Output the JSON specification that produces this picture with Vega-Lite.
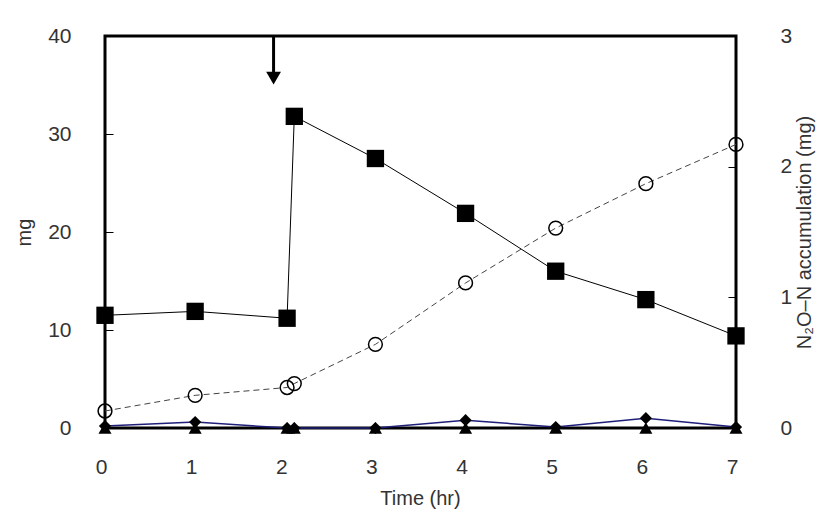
{
  "$schema": "https://vega.github.io/schema/vega-lite/v6.json",
  "autosize": "none",
  "width": 631,
  "height": 392,
  "padding": {"left": 105, "top": 36, "right": 90, "bottom": 86},
  "background": "white",
  "config": {
    "view": {"stroke": "black", "strokeWidth": 3},
    "font": "Liberation Sans",
    "axis": {"labelFont": "Liberation Sans", "titleFont": "Liberation Sans", "labelFontSize": 21, "titleFontSize": 20, "labelColor": "#333", "titleColor": "#333", "titleFontWeight": "normal", "grid": false, "domain": false, "format": "d", "zindex": 1, "labelFlush": false}
  },
  "datasets": {
    "mg": [
      {"t": 0, "v": 11.5, "s": "square"},
      {"t": 1, "v": 11.9, "s": "square"},
      {"t": 2.02, "v": 11.2, "s": "square"},
      {"t": 2.1, "v": 31.8, "s": "square"},
      {"t": 3, "v": 27.5, "s": "square"},
      {"t": 4, "v": 21.9, "s": "square"},
      {"t": 5, "v": 16.0, "s": "square"},
      {"t": 6, "v": 13.1, "s": "square"},
      {"t": 7, "v": 9.4, "s": "square"},
      {"t": 0, "v": 0.2, "s": "diamond"},
      {"t": 1, "v": 0.6, "s": "diamond"},
      {"t": 2.02, "v": 0.0, "s": "diamond"},
      {"t": 2.1, "v": 0.0, "s": "diamond"},
      {"t": 3, "v": 0.0, "s": "diamond"},
      {"t": 4, "v": 0.8, "s": "diamond"},
      {"t": 5, "v": 0.1, "s": "diamond"},
      {"t": 6, "v": 1.0, "s": "diamond"},
      {"t": 7, "v": 0.1, "s": "diamond"},
      {"t": 0, "v": 0, "s": "triangle"},
      {"t": 1, "v": 0, "s": "triangle"},
      {"t": 2.02, "v": 0, "s": "triangle"},
      {"t": 2.1, "v": 0, "s": "triangle"},
      {"t": 3, "v": 0, "s": "triangle"},
      {"t": 4, "v": 0, "s": "triangle"},
      {"t": 5, "v": 0, "s": "triangle"},
      {"t": 6, "v": 0, "s": "triangle"},
      {"t": 7, "v": 0, "s": "triangle"}
    ],
    "n2o": [
      {"t": 0, "v": 0.13},
      {"t": 1, "v": 0.25},
      {"t": 2.02, "v": 0.31},
      {"t": 2.1, "v": 0.34},
      {"t": 3, "v": 0.64},
      {"t": 4, "v": 1.11},
      {"t": 5, "v": 1.53},
      {"t": 6, "v": 1.87},
      {"t": 7, "v": 2.17}
    ],
    "arrow": [
      {"t": 1.87, "top": 40, "bottom": 36.2, "head": 35.7}
    ]
  },
  "layer": [
    {
      "layer": [
        {
          "data": {"name": "mg"},
          "transform": [{"filter": "datum.s === 'triangle'"}],
          "mark": {"type": "line", "color": "black", "strokeWidth": 2},
          "encoding": {
            "x": {"field": "t", "type": "quantitative", "scale": {"domain": [0, 7], "nice": false, "zero": false}, "axis": {"orient": "bottom", "values": [0,1,2,3,4,5,6,7], "ticks": false, "labelFlush": false, "labelPadding": 28, "labelOffset": -4, "title": "Time (hr)", "titleX": 315, "titleY": 70, "titleBaseline": "middle", "titleAlign": "center"}},
            "y": {"field": "v", "type": "quantitative", "scale": {"domain": [0, 40], "nice": false}, "axis": {"orient": "left", "values": [0,10,20,30,40], "offset": -8, "ticks": true, "tickSize": 8, "tickColor": "black", "tickWidth": 1, "labelPadding": 34, "title": "mg", "titleAngle": 270, "titleX": -89, "titleY": 196, "titleBaseline": "middle", "titleAlign": "center"}}
          }
        },
        {
          "data": {"name": "mg"},
          "transform": [{"filter": "datum.s === 'diamond'"}],
          "mark": {"type": "line", "color": "#1f1f7a", "strokeWidth": 1.5},
          "encoding": {"x": {"field": "t", "type": "quantitative"}, "y": {"field": "v", "type": "quantitative"}}
        },
        {
          "data": {"name": "mg"},
          "transform": [{"filter": "datum.s === 'square'"}],
          "mark": {"type": "line", "color": "black", "strokeWidth": 1},
          "encoding": {"x": {"field": "t", "type": "quantitative"}, "y": {"field": "v", "type": "quantitative"}}
        },
        {
          "data": {"name": "mg"},
          "transform": [{"filter": "datum.s === 'diamond'"}],
          "mark": {"type": "point", "shape": "diamond", "filled": true, "color": "black", "size": 150, "opacity": 1},
          "encoding": {"x": {"field": "t", "type": "quantitative"}, "y": {"field": "v", "type": "quantitative"}}
        },
        {
          "data": {"name": "mg"},
          "transform": [{"filter": "datum.s === 'triangle'"}],
          "mark": {"type": "point", "shape": "triangle-up", "filled": true, "color": "black", "size": 170, "opacity": 1},
          "encoding": {"x": {"field": "t", "type": "quantitative"}, "y": {"field": "v", "type": "quantitative"}}
        },
        {
          "data": {"name": "mg"},
          "transform": [{"filter": "datum.s === 'square'"}],
          "mark": {"type": "point", "shape": "square", "filled": true, "color": "black", "size": 300, "opacity": 1},
          "encoding": {"x": {"field": "t", "type": "quantitative"}, "y": {"field": "v", "type": "quantitative"}}
        },
        {
          "data": {"name": "arrow"},
          "mark": {"type": "rule", "color": "black", "strokeWidth": 3},
          "encoding": {"x": {"field": "t", "type": "quantitative"}, "y": {"field": "top", "type": "quantitative"}, "y2": {"field": "bottom"}}
        },
        {
          "data": {"name": "arrow"},
          "mark": {"type": "point", "shape": "triangle-down", "filled": true, "color": "black", "size": 220, "opacity": 1},
          "encoding": {"x": {"field": "t", "type": "quantitative"}, "y": {"field": "head", "type": "quantitative"}}
        }
      ]
    },
    {
      "layer": [
        {
          "data": {"name": "n2o"},
          "mark": {"type": "line", "color": "#444", "strokeWidth": 1, "strokeDash": [6, 4]},
          "encoding": {
            "x": {"field": "t", "type": "quantitative"},
            "y": {"field": "v", "type": "quantitative", "scale": {"domain": [0, 3], "nice": false}, "axis": {"orient": "right", "values": [0,1,2,3], "offset": -8, "ticks": true, "tickSize": 8, "tickColor": "black", "tickWidth": 1, "labelPadding": 44, "title": "N₂O–N accumulation (mg)", "titleAngle": 270, "titleX": 76, "titleY": 196, "titleAlign": "center", "titleBaseline": "middle"}}
          }
        },
        {
          "data": {"name": "n2o"},
          "mark": {"type": "point", "shape": "circle", "filled": false, "color": "black", "fill": "white", "fillOpacity": 0, "strokeWidth": 1.5, "size": 190, "opacity": 1},
          "encoding": {"x": {"field": "t", "type": "quantitative"}, "y": {"field": "v", "type": "quantitative"}}
        }
      ]
    }
  ],
  "resolve": {"scale": {"y": "independent"}}
}
